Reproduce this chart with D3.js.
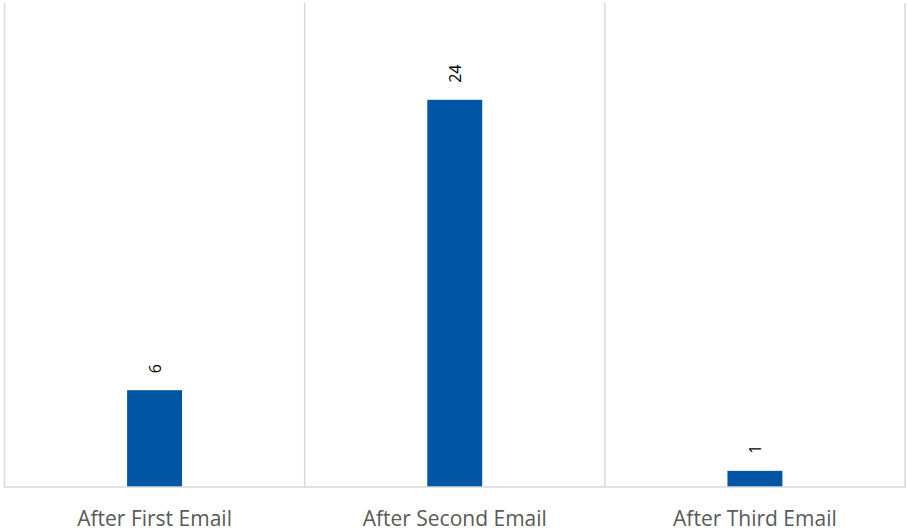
<!DOCTYPE html>
<html><head><meta charset="utf-8">
<script src="https://cdn.jsdelivr.net/npm/d3@7/dist/d3.min.js"></script>
<style>body{margin:0;background:#fff}svg{display:block}</style>
</head><body><svg id="c" width="907" height="532"></svg>
<script>
const categories = ["After First Email", "After Second Email", "After Third Email"];
const values = [6, 24, 1];
const yMax = 30;

(function(){
const svg = d3.select("#c");
const pLeft = 4.5, pRight = 905, pTop = 3, pBottom = 487;
const x = d3.scaleBand().domain(categories).range([pLeft, pRight]).padding(0);
const y = d3.scaleLinear().domain([0, yMax]).range([pBottom, pTop]);
const barW = x.step() * 0.183;

const bounds = categories.map(c => x(c)).concat([x(categories[categories.length-1]) + x.step()]);
svg.selectAll("line.grid").data(bounds).enter().append("line")
  .attr("x1", d => d).attr("x2", d => d).attr("y1", pTop).attr("y2", pBottom)
  .attr("stroke", "#d9d9d9").attr("stroke-width", 1.5);

svg.selectAll("rect.bar").data(values).enter().append("rect")
  .attr("x", (d, i) => x(categories[i]) + x.bandwidth()/2 - barW/2)
  .attr("width", barW)
  .attr("y", d => y(d))
  .attr("height", d => pBottom - y(d))
  .attr("fill", "#0055A5");

svg.append("line").attr("x1", pLeft - 1).attr("x2", pRight + 1).attr("y1", pBottom).attr("y2", pBottom)
  .attr("stroke", "#d9d9d9").attr("stroke-width", 1.5);

svg.selectAll("text.lbl").data(values).enter().append("text")
  .attr("transform", (d, i) => `translate(${x(categories[i]) + x.bandwidth()/2 + 6},${y(d) - 17}) rotate(-90)`)
  .attr("text-anchor", "start")
  .attr("font-family", "Open Sans, sans-serif").attr("font-size", 16).attr("fill", "#000")
  .text(d => d);

const xAxis = d3.axisBottom(x).tickSize(0).tickPadding(0);
const g = svg.append("g").attr("transform", `translate(0,${pBottom})`).call(xAxis);
g.select(".domain").remove();
g.selectAll("text").attr("y", 39).attr("dy", 0)
  .attr("font-family", "Open Sans, sans-serif").attr("font-size", 21).attr("fill", "#595959");
})();
</script></body></html>
